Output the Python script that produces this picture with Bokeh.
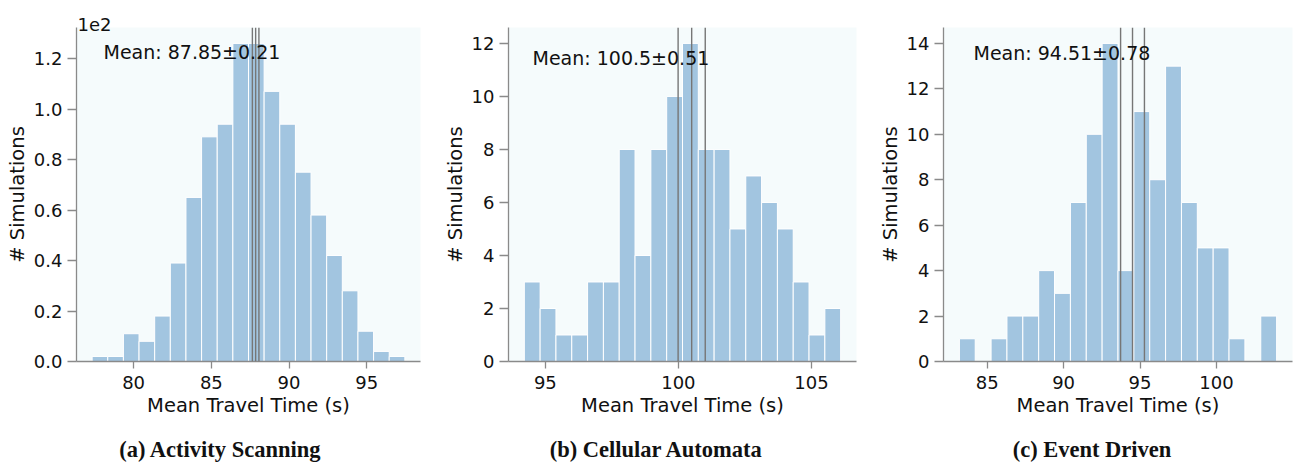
import numpy as np
from bokeh.plotting import figure
from bokeh.layouts import row, column
from bokeh.models import Range1d, FixedTicker, Span, Label, Title
from bokeh.core.properties import value
from bokeh.embed import file_html
from bokeh.resources import INLINE

# Histogram counts (20 bins per model) and the bin range each histogram covers
counts_a = [2, 2, 11, 8, 18, 39, 65, 89, 94, 126, 126, 107, 94, 75, 58, 42, 28, 12, 4, 2]
range_a = (77.33, 97.45)
mean_a, err_a = 87.85, 0.21

counts_b = [3, 2, 1, 1, 3, 3, 8, 4, 8, 10, 12, 8, 8, 5, 7, 6, 5, 3, 1, 2]
range_b = (94.21, 106.10)
mean_b, err_b = 100.5, 0.51

counts_c = [1, 0, 1, 2, 2, 4, 3, 7, 10, 14, 4, 11, 8, 13, 7, 5, 5, 1, 0, 2]
range_c = (83.18, 103.94)
mean_c, err_c = 94.51, 0.78

xticks_a = [80, 85, 90, 95]
yticks_a = [0, 20, 40, 60, 80, 100, 120]
ytick_labels_a = ["0.0", "0.2", "0.4", "0.6", "0.8", "1.0", "1.2"]

xticks_b = [95, 100, 105]
yticks_b = [0, 2, 4, 6, 8, 10, 12]

xticks_c = [85, 90, 95, 100]
yticks_c = [0, 2, 4, 6, 8, 10, 12, 14]

captions = ["(a) Activity Scanning", "(b) Cellular Automata", "(c) Event Driven"]

BAR = "#a2c5e0"
BG = "#f5fbfc"
SPINE = "#8a8a8a"
MEANLINE = "#767676"
FONT = "DejaVu Sans"
PANEL_H = 430


def panel(counts, rng, mean, err, xticks, yticks,
          width, left, right, top, frame_bottom, text_dx, text_dy,
          ytick_labels=None, sci=None):
    lo, hi = rng
    edges = np.linspace(lo, hi, len(counts) + 1)
    pad = 0.05 * (hi - lo)
    ymax = max(counts) * 1.05

    p = figure(width=width, height=PANEL_H, output_backend="svg", toolbar_location=None,
               x_range=Range1d(lo - pad, hi + pad), y_range=Range1d(0, ymax),
               min_border_left=left, min_border_right=right,
               min_border_top=top, min_border_bottom=PANEL_H - frame_bottom)
    p.background_fill_color = BG
    p.border_fill_color = "white"
    p.outline_line_color = None
    p.grid.visible = False

    p.quad(left=edges[:-1], right=edges[1:], bottom=0, top=counts,
           fill_color=BAR, line_color="white", line_width=1)

    for v in (mean - err, mean, mean + err):
        p.add_layout(Span(location=v, dimension="height",
                          line_color=MEANLINE, line_width=1.4))

    for ax in (p.xaxis[0], p.yaxis[0]):
        ax.axis_line_color = SPINE
        ax.axis_line_width = 1.3
        ax.major_tick_line_color = SPINE
        ax.major_tick_line_width = 1.3
        ax.minor_tick_line_color = None
        ax.major_tick_in = 0
        ax.major_label_text_font = FONT
        ax.major_label_text_font_size = "18px"
        ax.major_label_text_color = "#111111"
        ax.axis_label_text_font = FONT
        ax.axis_label_text_font_size = "19.5px"
        ax.axis_label_text_font_style = "normal"
        ax.axis_label_text_color = "#111111"

    p.xaxis.major_tick_out = 7
    p.yaxis.major_tick_out = 9
    p.xaxis.major_label_standoff = 7
    p.yaxis.major_label_standoff = 5
    p.xaxis.ticker = FixedTicker(ticks=xticks)
    p.yaxis.ticker = FixedTicker(ticks=yticks)
    if ytick_labels is not None:
        p.yaxis.major_label_overrides = {t: s for t, s in zip(yticks, ytick_labels)}
    p.xaxis.axis_label = "Mean Travel Time (s)"
    p.yaxis.axis_label = "# Simulations"
    p.xaxis.axis_label_standoff = 2
    p.yaxis.axis_label_standoff = 2

    frame_h = frame_bottom - top
    p.add_layout(Label(x=text_dx, y=frame_h - text_dy, x_units="screen", y_units="screen",
                       text=f"Mean: {mean}\u00b1{err}", text_font=FONT,
                       text_font_size="19px", text_color="#111111",
                       text_baseline="middle", text_align="left"))
    if sci is not None:
        # offset exponent shown above the y axis
        p.add_layout(Title(text=sci, align="left", offset=1, standoff=-7,
                           text_font=FONT, text_font_size="18px",
                           text_font_style="normal", text_color="#111111"), "above")
    return p


p1 = panel(counts_a, range_a, mean_a, err_a, xticks_a, yticks_a,
           width=440, left=76, right=20, top=27, frame_bottom=362,
           text_dx=27, text_dy=25, ytick_labels=ytick_labels_a, sci="1e2")
p2 = panel(counts_b, range_b, mean_b, err_b, xticks_b, yticks_b,
           width=430, left=67, right=14, top=21, frame_bottom=361,
           text_dx=24, text_dy=36)
p3 = panel(counts_c, range_c, mean_c, err_c, xticks_c, yticks_c,
           width=423, left=73, right=1, top=21, frame_bottom=361,
           text_dx=30, text_dy=31.5)

# Sub-figure captions in a strip beneath the panels
cap = figure(width=1293, height=463 - PANEL_H, output_backend="svg", toolbar_location=None,
             x_range=Range1d(0, 1293), y_range=Range1d(0, 463 - PANEL_H),
             min_border=0)
cap.axis.visible = False
cap.grid.visible = False
cap.outline_line_color = None
cap.background_fill_color = "white"
cap.text(x=[220, 656, 1091.5], y=[14, 14, 14], text=captions,
         text_font=value("Liberation Serif"), text_font_style="bold",
         text_font_size="22.5px", text_color="#111111",
         text_align="center", text_baseline="middle")

layout = column(row(p1, p2, p3), cap)
open("out.html", "w").write(file_html(layout, INLINE))
